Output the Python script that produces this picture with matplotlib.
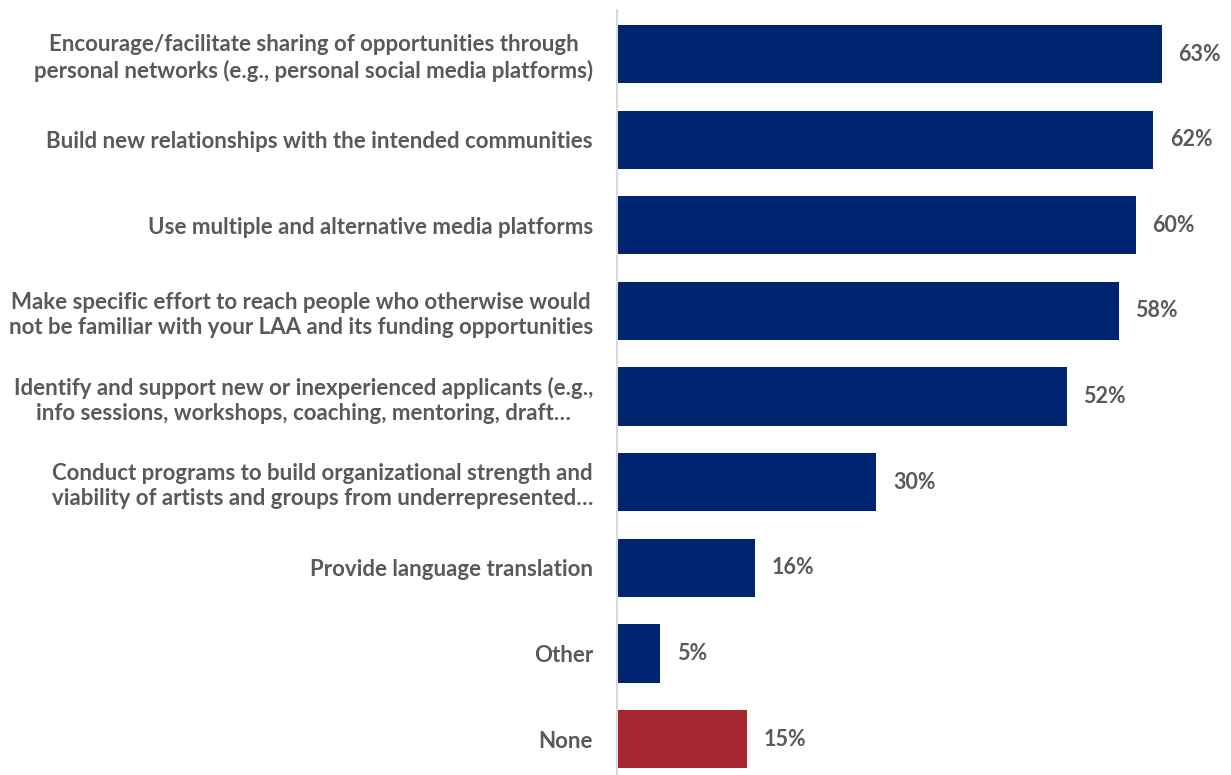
import matplotlib
matplotlib.use("Agg")
import matplotlib.pyplot as plt

labels = [
    "Encourage/facilitate sharing of opportunities through\npersonal networks (e.g., personal social media platforms)",
    "Build new relationships with the intended communities",
    "Use multiple and alternative media platforms",
    "Make specific effort to reach people who otherwise would\nnot be familiar with your LAA and its funding opportunities",
    "Identify and support new or inexperienced applicants (e.g.,\ninfo sessions, workshops, coaching, mentoring, draft\u2026",
    "Conduct programs to build organizational strength and\nviability of artists and groups from underrepresented\u2026",
    "Provide language translation",
    "Other",
    "None",
]
values = [63, 62, 60, 58, 52, 30, 16, 5, 15]
colors = ["#002570"] * 8 + ["#A8262F"]

text_color = "#595959"
plt.rcParams["font.family"] = ["Lato", "DejaVu Sans"]

W, H = 1231, 775
fig = plt.figure(figsize=(W / 100, H / 100), dpi=100)
ax_w = W - 617
ax = fig.add_axes([617 / W, 0, ax_w / W, 765 / H])

pos = list(range(len(values)))
ax.barh(pos, values, height=0.68, color=colors)
ax.set_xlim(0, 71)
ax.set_ylim(8.42, -0.514)

for p, v in zip(pos, values):
    ax.annotate(f"{v}%", (v, p), xytext=(12, 0), textcoords="offset points",
                va="center", ha="left", fontsize=15.5, fontweight="bold",
                color=text_color)

ax.set_yticks(pos)
ax.set_yticklabels(labels, fontsize=16, fontweight="bold", color=text_color,
                   ha="center", multialignment="center", linespacing=1.25)
ax.tick_params(axis="y", length=0, pad=0)
fig.canvas.draw()
# centred labels: move each so its right edge sits about 24 px left of the axis
for t in ax.get_yticklabels():
    bb = t.get_window_extent()
    t.set_transform(ax.get_yaxis_transform())
    t.set_position((-(bb.width / 2 + 24) / ax_w, t.get_position()[1]))

ax.set_xticks([])
for s in ["top", "right", "bottom"]:
    ax.spines[s].set_visible(False)
ax.spines["left"].set_color("#D9D9D9")
ax.spines["left"].set_linewidth(1.5)

fig.savefig("out.png", dpi=100)
